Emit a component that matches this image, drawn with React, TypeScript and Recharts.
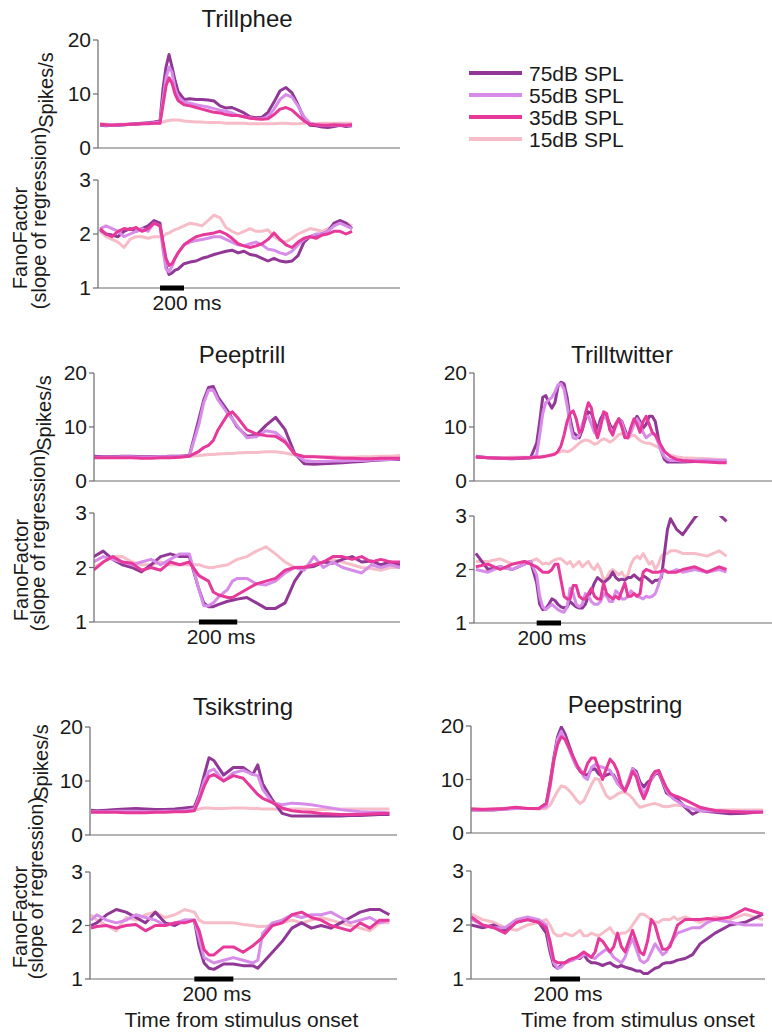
import React from "react";
import { LineChart, Line, XAxis, YAxis, ReferenceLine } from "recharts";

// Peri-stimulus firing rate and Fano factor for five call types at four levels.
// Time is in ms from stimulus onset; the scale bar spans 0-200 ms.

const trillpheeTime = [-500, -450, -400, -350, -300, -250, -200, -150, -100, -50, 0, 25, 50, 75, 100, 125, 150, 200, 250, 300, 350, 400, 450, 500, 550, 600, 650, 700, 750, 800, 850, 900, 950, 1000, 1050, 1100, 1150, 1200, 1250, 1300, 1350, 1400, 1450, 1500, 1550, 1600];
const trillpheeRate75 = [4.2, 4.1, 4.2, 4.2, 4.3, 4.4, 4.5, 4.6, 4.7, 4.8, 5.0, 11, 15, 17.3, 15, 12.5, 10.5, 9.0, 9.1, 9.0, 9.0, 8.9, 8.7, 7.8, 7.4, 7.5, 7.0, 6.5, 5.8, 5.6, 5.7, 6.6, 8.5, 10.6, 11.2, 10.2, 8.0, 5.5, 4.2, 4.1, 3.9, 3.8, 4.0, 4.2, 4.0, 4.1];
const trillpheeRate55 = [4.3, 4.2, 4.2, 4.3, 4.3, 4.4, 4.4, 4.5, 4.6, 4.7, 4.8, 9, 13, 15, 14, 11, 9.5, 8.5, 8.3, 8.0, 7.8, 7.6, 7.3, 7.0, 6.8, 6.5, 6.0, 5.8, 5.6, 5.4, 5.4, 5.8, 7.2, 9.0, 9.9, 9.4, 7.8, 5.8, 4.6, 4.3, 4.2, 4.2, 4.2, 4.3, 4.2, 4.2];
const trillpheeRate35 = [4.4, 4.3, 4.2, 4.3, 4.3, 4.4, 4.4, 4.5, 4.5, 4.6, 4.6, 8, 11.5, 13, 12, 10, 8.8, 8.0, 7.8, 7.5, 7.2, 6.9, 6.6, 6.5, 6.2, 6.0, 6.0, 5.8, 5.5, 5.4, 5.3, 5.4, 6.2, 7.2, 7.5, 7.0, 6.0, 5.0, 4.4, 4.3, 4.2, 4.2, 4.3, 4.2, 4.2, 4.3];
const trillpheeRate15 = [4.5, 4.4, 4.3, 4.4, 4.4, 4.5, 4.5, 4.5, 4.6, 4.6, 4.6, 4.8, 5.0, 5.1, 5.2, 5.2, 5.2, 5.0, 4.9, 4.8, 4.8, 4.7, 4.7, 4.7, 4.6, 4.6, 4.6, 4.6, 4.5, 4.5, 4.5, 4.5, 4.5, 4.6, 4.6, 4.5, 4.5, 4.6, 4.6, 4.5, 4.6, 4.6, 4.6, 4.6, 4.6, 4.6];
const trillpheeFano75 = [2.08, 2.0, 1.98, 1.95, 2.05, 2.1, 2.05, 2.1, 2.15, 2.25, 2.2, 1.8, 1.4, 1.25, 1.28, 1.33, 1.35, 1.45, 1.48, 1.5, 1.55, 1.58, 1.62, 1.65, 1.68, 1.7, 1.65, 1.68, 1.62, 1.6, 1.55, 1.5, 1.55, 1.5, 1.48, 1.5, 1.6, 1.85, 1.95, 1.98, 2.0, 2.05, 2.2, 2.25, 2.2, 2.1];
const trillpheeFano55 = [2.1, 2.15, 2.1, 2.05, 1.95, 2.0, 2.05, 2.1, 2.05, 2.2, 2.15, 1.7, 1.35, 1.3, 1.4, 1.55, 1.65, 1.8, 1.85, 1.88, 1.9, 1.92, 1.95, 1.95, 1.9, 1.85, 1.8, 1.78, 1.82, 1.85, 1.8, 1.72, 1.7, 1.65, 1.62, 1.68, 1.8, 1.9, 1.95, 2.0, 2.0, 2.05, 2.15, 2.2, 2.15, 2.1];
const trillpheeFano35 = [2.1, 2.0, 1.95, 2.05, 2.1, 2.08, 2.12, 2.05, 2.1, 2.2, 2.15, 1.85, 1.55, 1.42, 1.45, 1.55, 1.65, 1.8, 1.88, 1.95, 1.98, 2.0, 2.02, 2.05, 2.0, 1.92, 1.82, 1.78, 1.75, 1.78, 1.82, 1.9, 2.02, 1.9, 1.8, 1.75, 1.85, 1.92, 1.95, 1.92, 1.98, 2.0, 2.05, 2.05, 2.0, 2.05];
const trillpheeFano15 = [2.05, 1.95, 1.9, 1.85, 1.75, 1.9, 1.95, 1.95, 1.92, 1.95, 1.95, 1.95, 2.0, 2.02, 2.05, 2.08, 2.1, 2.15, 2.2, 2.18, 2.15, 2.25, 2.35, 2.3, 2.12, 2.05, 2.0, 2.05, 2.1, 2.05, 2.05, 2.08, 1.95, 1.88, 1.85, 1.92, 2.0, 2.05, 2.1, 2.08, 2.05, 2.1, 2.15, 2.25, 2.2, 2.15];

const peeptrillTime = [-550, -500, -450, -400, -350, -300, -250, -200, -150, -100, -50, 0, 25, 50, 75, 100, 150, 175, 200, 250, 300, 350, 400, 450, 500, 550, 600, 650, 700, 750, 800, 850, 900, 950, 1000, 1050];
const peeptrillRate75 = [4.6, 4.5, 4.5, 4.6, 4.6, 4.5, 4.5, 4.5, 4.6, 4.6, 4.7, 11.5, 15, 17.3, 17.5, 15.5, 13.0, 11.5, 10.0, 8.3, 8.5, 10.3, 11.8, 9.5, 5.1, 3.2, 3.1, 3.2, 3.3, 3.4, 3.5, 3.6, 3.8, 3.9, 4.0, 4.0];
const peeptrillRate55 = [4.4, 4.4, 4.4, 4.5, 4.5, 4.4, 4.4, 4.5, 4.5, 4.5, 4.6, 10.5, 14.5, 16.8, 16.8, 15.0, 12.5, 11.5, 10.2, 8.0, 8.2, 9.3, 9.0, 7.5, 5.0, 3.8, 3.6, 3.6, 3.7, 3.7, 3.8, 3.8, 3.9, 4.0, 4.0, 4.1];
const peeptrillRate35 = [4.3, 4.3, 4.3, 4.3, 4.3, 4.2, 4.2, 4.3, 4.3, 4.4, 4.6, 5.5, 6.2, 6.6, 7.5, 9.5, 12.3, 12.8, 11.8, 9.5, 8.7, 8.4, 8.3, 7.2, 5.0, 4.5, 4.5, 4.4, 4.3, 4.2, 4.2, 4.1, 4.1, 4.2, 4.2, 4.2];
const peeptrillRate15 = [4.5, 4.5, 4.5, 4.5, 4.5, 4.5, 4.5, 4.5, 4.6, 4.6, 4.6, 4.7, 4.8, 4.9, 4.9, 5.0, 5.1, 5.1, 5.2, 5.3, 5.3, 5.4, 5.4, 5.2, 4.8, 4.6, 4.6, 4.5, 4.5, 4.4, 4.4, 4.5, 4.5, 4.6, 4.6, 4.7];
const peeptrillFano75 = [2.2, 2.3, 2.15, 2.05, 2.0, 1.92, 2.05, 2.2, 2.25, 2.2, 2.2, 1.6, 1.35, 1.28, 1.28, 1.32, 1.38, 1.4, 1.42, 1.45, 1.35, 1.25, 1.25, 1.35, 1.75, 2.0, 2.02, 2.1, 2.08, 2.15, 2.2, 2.1, 2.12, 2.05, 2.1, 2.05];
const peeptrillFano55 = [2.1, 2.2, 2.15, 2.1, 2.05, 2.1, 2.15, 2.05, 2.15, 2.25, 2.25, 1.6, 1.3, 1.3, 1.35, 1.45, 1.6, 1.75, 1.8, 1.8, 1.7, 1.68, 1.75, 1.9, 2.0, 1.95, 2.2, 2.0, 2.1, 2.0, 1.95, 1.9, 2.05, 2.0, 2.05, 2.0];
const peeptrillFano35 = [1.95, 2.1, 2.2, 2.1, 2.08, 1.95, 2.0, 1.95, 2.1, 2.05, 2.1, 1.85, 1.8, 1.75, 1.55, 1.5, 1.45, 1.45, 1.5, 1.6, 1.7, 1.75, 1.8, 1.95, 2.0, 2.0, 2.05, 2.1, 2.2, 2.2, 2.15, 2.2, 2.1, 2.15, 2.1, 2.1];
const peeptrillFano15 = [2.0, 2.1, 2.2, 2.2, 2.1, 2.05, 2.05, 2.1, 2.05, 2.05, 2.05, 2.05, 2.02, 2.0, 2.0, 2.02, 2.05, 2.1, 2.15, 2.2, 2.3, 2.38, 2.25, 2.1, 2.0, 2.02, 2.05, 2.1, 2.15, 2.1, 2.05, 2.0, 1.98, 1.95, 2.0, 2.0];

const trilltwitterTime = [-500, -400, -300, -200, -100, -50, 0, 25, 50, 75, 100, 125, 150, 175, 200, 225, 250, 275, 300, 325, 350, 375, 400, 425, 450, 475, 500, 525, 550, 575, 600, 625, 650, 675, 700, 725, 750, 775, 800, 825, 850, 875, 900, 925, 950, 975, 1000, 1025, 1050, 1075, 1100, 1150, 1200, 1300, 1400, 1500, 1560];
const trilltwitterRate75 = [4.6, 4.3, 4.2, 4.1, 4.2, 4.3, 7.0, 11, 15.5, 15.8, 14.5, 13.5, 14.5, 17.5, 18.3, 18.0, 15.5, 11.5, 9.0, 8.5, 8.0, 9.5, 11.5, 12.8, 12.5, 11.0, 9.5, 11.5, 12.5, 12.0, 10.5, 9.5, 10.5, 11.5, 11.0, 9.5, 8.0, 9.5, 11.0, 12.0, 11.0, 9.8, 10.5, 12.0, 12.0, 11.0, 8.0, 5.5, 4.0, 3.5, 3.5, 3.5, 3.5, 3.6, 3.7, 3.6, 3.5];
const trilltwitterRate55 = [4.5, 4.3, 4.2, 4.2, 4.3, 4.3, 4.8, 8.5, 12.5, 14.5, 15, 15.5, 16.5, 17.8, 18.0, 17.0, 14.0, 10.5, 8.0, 7.8, 8.5, 10.5, 12.0, 12.0, 10.5, 9.0, 8.5, 10.5, 12.0, 11.5, 10.0, 9.0, 10.0, 11.5, 10.8, 9.0, 8.0, 9.0, 10.5, 11.5, 10.5, 9.0, 8.0, 8.5, 8.8, 8.5, 7.0, 5.5, 4.5, 4.0, 3.8, 3.8, 3.7, 3.8, 3.9, 3.8, 3.8];
const trilltwitterRate35 = [4.4, 4.3, 4.2, 4.2, 4.3, 4.3, 4.4, 4.4, 4.5, 4.6, 4.7, 4.8, 5.0, 5.5, 6.5, 8.5, 11.0, 12.5, 13.0, 11.5, 9.0, 9.5, 12.5, 14.5, 13.5, 10.0, 8.0, 10.0, 12.8, 12.5, 9.5, 8.5, 10.5, 11.5, 10.0, 8.0, 8.0, 10.0, 11.5, 10.5, 9.0, 11.0, 12.0, 10.5, 9.0, 8.5, 7.5, 6.5, 5.5, 5.0, 4.5, 4.0, 3.8, 3.6, 3.5, 3.4, 3.4];
const trilltwitterRate15 = [4.5, 4.3, 4.3, 4.4, 4.4, 4.4, 4.5, 4.5, 4.6, 4.6, 4.8, 4.9, 5.0, 5.2, 5.5, 5.6, 5.4, 5.6, 6.0, 6.5, 7.0, 7.4, 7.6, 7.5, 7.2, 6.8, 7.0, 7.5, 7.8, 7.6, 7.2, 7.5, 8.0, 8.6, 8.8, 8.5, 8.2, 8.3, 8.5, 8.0, 7.5, 7.2, 7.0, 7.0, 6.8, 6.5, 6.2, 5.8, 5.5, 5.0, 4.8, 4.5, 4.3, 4.2, 4.1, 4.0, 4.0];
const trilltwitterFano75 = [2.3, 2.0, 2.05, 2.0, 2.1, 2.15, 1.75, 1.35, 1.25, 1.27, 1.35, 1.45, 1.42, 1.35, 1.3, 1.28, 1.3, 1.4, 1.35, 1.3, 1.28, 1.28, 1.35, 1.5, 1.6, 1.75, 1.85, 1.8, 1.75, 1.8, 1.85, 1.95, 1.85, 1.8, 1.82, 1.8, 1.85, 1.85, 1.9, 1.85, 1.8, 1.88, 1.85, 1.8, 1.75, 1.8, 1.8, 1.85, 2.3, 2.75, 2.95, 2.75, 2.65, 2.97, 3.2, 3.03, 2.9];
const trilltwitterFano55 = [2.0, 1.95, 2.05, 2.0, 2.1, 2.15, 1.9, 1.5, 1.3, 1.25, 1.3, 1.35, 1.3, 1.25, 1.22, 1.2, 1.3, 1.65, 1.55, 1.35, 1.3, 1.35, 1.55, 1.5, 1.4, 1.35, 1.35, 1.4, 1.55, 1.5, 1.4, 1.4, 1.6, 1.55, 1.45, 1.45, 1.5, 1.6, 1.55, 1.5, 1.48, 1.45, 1.5, 1.48, 1.5, 1.55, 1.7, 1.9, 2.0, 1.95, 1.95, 2.0, 1.95, 2.0, 1.95, 2.0, 1.95];
const trilltwitterFano35 = [2.05, 2.1, 2.0, 2.1, 2.15, 2.1, 2.05, 2.0, 1.95, 1.95, 1.95, 2.0, 2.1, 2.1, 1.8, 1.5, 1.45, 1.45, 1.7, 1.7, 1.5, 1.45, 1.45, 1.55, 1.65, 1.5, 1.45, 1.45, 1.75, 1.55, 1.5, 1.45, 1.5, 1.45, 1.6, 1.75, 1.5, 1.5, 1.55, 1.5, 1.55, 1.95, 2.0, 1.98, 1.95, 1.95, 1.95, 1.97, 1.98, 1.95, 1.95, 1.95, 2.0, 2.05, 1.95, 2.05, 2.0];
const trilltwitterFano15 = [2.15, 2.15, 2.2, 2.1, 2.15, 2.15, 2.2, 2.15, 2.1, 2.12, 2.1, 2.15, 2.18, 2.2, 2.2, 2.15, 2.1, 2.15, 2.05, 2.1, 2.15, 2.05, 2.1, 2.15, 2.05, 2.0, 2.1, 2.0, 1.8, 1.85, 1.95, 2.0, 1.95, 1.9, 1.95, 1.85, 1.9, 2.1, 2.2, 2.25, 2.2, 2.3, 2.2, 2.1, 2.15, 2.0, 2.1, 2.25, 2.3, 2.3, 2.35, 2.35, 2.3, 2.3, 2.25, 2.35, 2.25];

const tsikstringTime = [-530, -500, -450, -400, -350, -300, -250, -200, -150, -100, -50, 0, 25, 50, 75, 100, 150, 200, 250, 300, 325, 350, 400, 450, 500, 550, 600, 650, 700, 750, 800, 850, 900, 950, 1000];
const tsikstringRate75 = [4.6, 4.5, 4.6, 4.7, 4.8, 4.9, 4.8, 4.7, 4.7, 4.8, 5.0, 5.2, 7.5, 11.0, 14.3, 13.8, 11.1, 12.5, 12.5, 11.2, 13.0, 9.5, 6.5, 4.0, 3.5, 3.5, 3.5, 3.5, 3.5, 3.5, 3.6, 3.6, 3.7, 3.8, 3.8];
const tsikstringRate55 = [4.3, 4.3, 4.3, 4.4, 4.4, 4.4, 4.3, 4.3, 4.4, 4.4, 4.5, 4.8, 7.0, 10.0, 11.8, 12.2, 10.0, 11.5, 12.0, 11.2, 11.0, 8.5, 6.0, 5.6, 5.9, 5.8, 5.6, 5.3, 5.0, 4.7, 4.5, 4.3, 4.2, 4.2, 4.1];
const tsikstringRate35 = [4.2, 4.2, 4.2, 4.2, 4.1, 4.1, 4.1, 4.2, 4.2, 4.3, 4.3, 4.5, 6.5, 9.0, 10.8, 11.2, 10.0, 11.0, 10.5, 8.5, 7.5, 6.8, 6.0, 5.0, 4.5, 4.3, 4.2, 4.0, 3.9, 3.8, 3.8, 3.8, 3.9, 4.0, 4.0];
const tsikstringRate15 = [4.4, 4.4, 4.4, 4.4, 4.5, 4.5, 4.5, 4.5, 4.5, 4.5, 4.5, 4.6, 4.8, 5.0, 5.0, 4.9, 4.9, 5.0, 5.0, 4.9, 4.9, 4.8, 4.8, 4.7, 4.8, 4.8, 4.7, 4.7, 4.8, 4.8, 4.8, 4.8, 4.8, 4.8, 4.8];
const tsikstringFano75 = [2.0, 2.05, 2.2, 2.3, 2.25, 2.15, 2.05, 2.25, 2.05, 2.0, 2.1, 2.1, 1.6, 1.3, 1.2, 1.18, 1.28, 1.28, 1.25, 1.25, 1.2, 1.3, 1.5, 1.7, 1.95, 2.05, 1.95, 2.0, 1.95, 2.05, 2.15, 2.25, 2.3, 2.3, 2.2];
const tsikstringFano55 = [2.1, 2.2, 2.1, 2.05, 2.1, 2.2, 2.15, 2.1, 2.0, 2.05, 2.1, 2.1, 1.75, 1.4, 1.35, 1.3, 1.35, 1.4, 1.35, 1.3, 1.35, 1.85, 2.05, 2.1, 2.2, 2.15, 2.2, 2.2, 2.25, 2.15, 2.05, 2.1, 2.15, 2.05, 2.1];
const tsikstringFano35 = [1.95, 1.98, 2.0, 1.95, 2.0, 2.02, 1.9, 2.0, 2.0, 2.05, 2.05, 2.1, 1.9, 1.55, 1.45, 1.45, 1.6, 1.6, 1.5, 1.62, 1.7, 1.78, 2.0, 2.05, 2.2, 2.25, 2.15, 2.1, 2.0, 1.95, 1.9, 2.05, 1.95, 2.1, 2.1];
const tsikstringFano15 = [2.2, 2.1, 2.0, 1.9, 2.15, 2.1, 2.2, 2.25, 2.15, 2.2, 2.3, 2.25, 2.1, 2.05, 2.05, 2.05, 2.05, 2.05, 2.02, 2.0, 1.98, 1.98, 2.0, 2.05, 2.1, 2.05, 2.1, 2.15, 2.1, 2.05, 2.0, 1.95, 1.9, 2.05, 2.05];

const peepstringTime = [-525, -450, -375, -300, -225, -150, -75, -25, 0, 25, 50, 75, 100, 125, 150, 175, 200, 225, 250, 275, 300, 325, 350, 375, 400, 425, 450, 475, 500, 525, 550, 575, 600, 625, 650, 675, 700, 725, 750, 775, 800, 825, 850, 900, 950, 1000, 1050, 1100, 1200, 1300, 1420];
const peepstringRate75 = [4.3, 4.3, 4.3, 4.5, 4.6, 4.6, 4.6, 5.5, 9.5, 14, 18, 19.8, 18.5, 16.5, 14.5, 12.5, 11.7, 11.0, 10.8, 11.8, 12.0, 11.0, 10.5, 10.8, 11.1, 10.8, 9.5, 8.5, 8.0, 9.5, 12.0, 11.5, 9.5, 8.6, 9.5, 10.0, 11.0, 11.2, 9.5, 7.5, 7.0, 6.8, 6.3, 4.8, 3.5, 4.2, 4.0, 3.9, 3.6, 3.7, 4.0];
const peepstringRate55 = [4.4, 4.3, 4.4, 4.5, 4.6, 4.6, 4.6, 5.0, 8.5, 13.5, 17.5, 19.0, 17.5, 15.8, 14.0, 12.5, 12.0, 10.5, 10.0, 12.2, 12.8, 12.5, 12.3, 12.0, 11.7, 10.5, 9.2, 8.5, 8.0, 10.0, 12.0, 11.0, 8.8, 7.4, 8.5, 10.0, 11.2, 11.5, 9.8, 8.0, 7.0, 6.3, 5.9, 5.0, 4.5, 4.2, 4.1, 4.1, 4.0, 4.0, 4.0];
const peepstringRate35 = [4.5, 4.4, 4.5, 4.6, 4.8, 4.6, 4.6, 5.5, 9.0, 13.5, 16.5, 18.0, 17.5, 16.0, 14.5, 13.0, 11.5, 11.0, 13.0, 14.0, 14.0, 12.0, 10.0, 12.0, 13.8, 13.0, 11.5, 9.0, 7.8, 9.5, 11.5, 10.5, 8.0, 6.4, 8.0, 10.5, 11.5, 11.7, 10.0, 8.5, 7.4, 7.0, 6.8, 6.2, 5.5, 4.8, 4.5, 4.2, 4.0, 3.9, 3.9];
const peepstringRate15 = [4.6, 4.5, 4.5, 4.6, 4.7, 4.6, 4.5, 4.6, 5.2, 6.5, 7.8, 8.8, 8.6, 8.0, 7.2, 6.2, 5.5, 6.0, 7.5, 9.0, 10.2, 10.0, 8.5, 7.0, 6.4, 6.8, 7.3, 7.6, 7.6, 7.2, 6.5, 5.5, 4.8, 5.0, 5.2, 5.4, 5.5, 5.3, 5.0, 4.9, 5.0, 5.2, 5.2, 5.0, 4.6, 4.5, 4.4, 4.3, 4.3, 4.3, 4.3];
const peepstringFano75 = [2.0, 1.95, 2.0, 1.9, 2.05, 2.1, 2.05, 1.85, 1.5, 1.25, 1.2, 1.25, 1.3, 1.35, 1.35, 1.4, 1.38, 1.45, 1.35, 1.3, 1.3, 1.28, 1.25, 1.28, 1.3, 1.25, 1.22, 1.25, 1.22, 1.2, 1.18, 1.15, 1.15, 1.1, 1.1, 1.15, 1.2, 1.22, 1.28, 1.3, 1.3, 1.32, 1.35, 1.38, 1.45, 1.65, 1.75, 1.85, 2.0, 2.05, 2.2];
const peepstringFano55 = [2.1, 2.0, 1.95, 1.95, 2.1, 2.15, 2.1, 2.0, 1.6, 1.3, 1.2, 1.22, 1.3, 1.32, 1.35, 1.38, 1.4, 1.45, 1.45, 1.4, 1.38, 1.45, 1.5, 1.55, 1.5, 1.4, 1.35, 1.3, 1.4, 1.6, 1.75, 1.55, 1.35, 1.3, 1.35, 1.5, 1.65, 1.55, 1.45, 1.5, 1.65, 1.75, 1.85, 1.9, 1.95, 1.95, 2.05, 2.1, 2.05, 2.0, 2.0];
const peepstringFano35 = [2.15, 2.0, 1.95, 1.85, 2.05, 2.1, 2.05, 1.95, 1.7, 1.35, 1.3, 1.3, 1.3, 1.35, 1.38, 1.4, 1.45, 1.5, 1.45, 1.4, 1.5, 1.75, 1.7, 1.6, 1.5, 1.6, 1.85, 1.6, 1.5, 1.7, 1.9, 1.7, 1.5, 1.45, 1.7, 2.1, 2.0, 1.75, 1.55, 1.55, 1.6, 1.8, 2.0, 2.1, 2.1, 2.1, 2.12, 2.1, 2.15, 2.3, 2.2];
const peepstringFano15 = [2.2, 2.1, 2.05, 1.95, 1.9, 2.0, 2.05, 2.1, 2.0, 1.85, 1.8, 1.8, 1.85, 1.82, 1.8, 1.85, 1.9, 1.8, 1.8, 1.85, 1.82, 1.8, 1.85, 1.9, 1.95, 1.85, 1.8, 1.85, 1.85, 1.9, 2.0, 2.1, 2.2, 2.2, 2.15, 2.1, 2.05, 2.05, 2.1, 2.1, 2.1, 2.15, 2.1, 2.15, 2.1, 2.05, 2.1, 2.15, 2.1, 2.2, 2.1];

// drawn back to front: 15, 75, 55, 35 dB
const SERIES = [
  { key: "db15", name: "15dB SPL", color: "#f6bdc8" },
  { key: "db75", name: "75dB SPL", color: "#913795" },
  { key: "db55", name: "55dB SPL", color: "#d78ce9" },
  { key: "db35", name: "35dB SPL", color: "#e6399a" },
];
const LEGEND_ORDER = ["db75", "db55", "db35", "db15"];

const FONT = "'Liberation Sans', Arial, sans-serif";
const INK = "#1a1a1a";
const AXIS = "#6b6b6b";

function toRows(time: number[], a: number[], b: number[], c: number[], d: number[]) {
  return time.map((t, i) => ({ t, db75: a[i], db55: b[i], db35: c[i], db15: d[i] }));
}

type TraceProps = {
  left: number;
  top: number;
  width: number;
  height: number;
  domainX: [number, number];
  rows: any[];
  fano?: boolean;
  xTitle?: boolean;
  xTitleShift?: number;
  barLabelShift?: number;
};

const YW = 50;
const MT = 12;
const MB = 14;

function Trace({ left, top, width, height, domainX, rows, fano, xTitle, xTitleShift = 0, barLabelShift = 3 }: TraceProps) {
  const xh = fano ? (xTitle ? 48 : 28) : 1;
  return (
    <div style={{ position: "absolute", left: left - YW, top: top - MT }}>
      <LineChart
        width={YW + width}
        height={MT + height + xh + MB}
        data={rows}
        margin={{ top: MT, right: 0, bottom: MB, left: 0 }}
      >
        <XAxis
          dataKey="t"
          type="number"
          domain={domainX}
          allowDataOverflow
          height={xh}
          ticks={fano ? [100] : []}
          tick={fano ? { fontSize: 21, fill: INK, fontFamily: FONT, dx: barLabelShift } : false}
          tickFormatter={() => "200 ms"}
          tickLine={false}
          tickSize={0}
          tickMargin={7}
          axisLine={fano ? false : { stroke: AXIS, strokeWidth: 1.2 }}
          label={
            xTitle
              ? {
                  value: "Time from stimulus onset",
                  position: "insideBottom",
                  offset: 0,
                  dx: xTitleShift,
                  style: { fontSize: 21, fill: INK, fontFamily: FONT },
                }
              : undefined
          }
        />
        <YAxis
          type="number"
          domain={fano ? [1, 3] : [0, 20]}
          ticks={fano ? [1, 2, 3] : [0, 10, 20]}
          interval={0}
          allowDataOverflow
          width={YW}
          tick={{ fontSize: 21, fill: INK, fontFamily: FONT }}
          tickSize={5}
          tickMargin={2}
          axisLine={{ stroke: AXIS, strokeWidth: 1.2 }}
          tickLine={{ stroke: AXIS, strokeWidth: 1.2 }}
        />
        {fano && <ReferenceLine y={1} stroke={AXIS} strokeWidth={1.2} />}
        {SERIES.map((s) => (
          <Line
            key={s.key}
            dataKey={s.key}
            stroke={s.color}
            strokeWidth={3}
            strokeLinejoin="round"
            dot={false}
            type="linear"
            isAnimationActive={false}
          />
        ))}
        {fano && (
          <ReferenceLine
            segment={[
              { x: 0, y: 1 },
              { x: 200, y: 1 },
            ]}
            stroke="#000"
            strokeWidth={5}
            ifOverflow="visible"
          />
        )}
      </LineChart>
    </div>
  );
}

function Title({ x, y, text }: { x: number; y: number; text: string }) {
  return (
    <div
      style={{
        position: "absolute",
        left: x,
        top: y,
        transform: "translate(-50%, -50%)",
        fontSize: 24,
        lineHeight: 1,
        color: INK,
        whiteSpace: "nowrap",
      }}
    >
      {text}
    </div>
  );
}

function SideLabel({ x, y, text }: { x: number; y: number; text: string }) {
  return (
    <div
      style={{
        position: "absolute",
        left: x,
        top: y,
        transform: "translate(-50%, -50%) rotate(-90deg)",
        fontSize: 20,
        lineHeight: 1,
        color: INK,
        whiteSpace: "nowrap",
      }}
    >
      {text}
    </div>
  );
}

function LevelLegend() {
  return (
    <svg style={{ position: "absolute", left: 460, top: 60 }} width={180} height={95}>
      {LEGEND_ORDER.map((k, i) => {
        const s = SERIES.find((d) => d.key === k)!;
        const y = 13 + i * 22;
        return (
          <g key={k}>
            <line x1={9} x2={62} y1={y} y2={y} stroke={s.color} strokeWidth={4} />
            <text x={69} y={y + 7.5} fontSize={21} fill={INK} fontFamily={FONT}>
              {s.name}
            </text>
          </g>
        );
      })}
    </svg>
  );
}

export default function App() {
  const trillpheeRates = toRows(trillpheeTime, trillpheeRate75, trillpheeRate55, trillpheeRate35, trillpheeRate15);
  const trillpheeFano = toRows(trillpheeTime, trillpheeFano75, trillpheeFano55, trillpheeFano35, trillpheeFano15);
  const peeptrillRates = toRows(peeptrillTime, peeptrillRate75, peeptrillRate55, peeptrillRate35, peeptrillRate15);
  const peeptrillFano = toRows(peeptrillTime, peeptrillFano75, peeptrillFano55, peeptrillFano35, peeptrillFano15);
  const trilltwitterRates = toRows(trilltwitterTime, trilltwitterRate75, trilltwitterRate55, trilltwitterRate35, trilltwitterRate15);
  const trilltwitterFano = toRows(trilltwitterTime, trilltwitterFano75, trilltwitterFano55, trilltwitterFano35, trilltwitterFano15);
  const tsikstringRates = toRows(tsikstringTime, tsikstringRate75, tsikstringRate55, tsikstringRate35, tsikstringRate15);
  const tsikstringFano = toRows(tsikstringTime, tsikstringFano75, tsikstringFano55, tsikstringFano35, tsikstringFano15);
  const peepstringRates = toRows(peepstringTime, peepstringRate75, peepstringRate55, peepstringRate35, peepstringRate15);
  const peepstringFano = toRows(peepstringTime, peepstringFano75, peepstringFano55, peepstringFano35, peepstringFano15);

  return (
    <div
      style={{
        position: "absolute",
        left: 0,
        top: 0,
        width: 772,
        height: 1032,
        background: "#fff",
        fontFamily: FONT,
        overflow: "hidden",
      }}
    >
      {/* Trillphee */}
      <Title x={247} y={19} text="Trillphee" />
      <SideLabel x={46} y={90} text="Spikes/s" />
      <SideLabel x={20} y={238} text="FanoFactor" />
      <SideLabel x={39} y={218} text="(slope of regression)" />
      <Trace left={98} top={40} width={302} height={108} domainX={[-517, 2000]} rows={trillpheeRates} />
      <Trace left={98} top={180} width={302} height={108} domainX={[-517, 2000]} rows={trillpheeFano} fano barLabelShift={15} />
      <LevelLegend />

      {/* Peeptrill */}
      <Title x={242} y={355} text="Peeptrill" />
      <SideLabel x={44} y={413} text="Spikes/s" />
      <SideLabel x={21} y={570} text="FanoFactor" />
      <SideLabel x={38} y={540} text="(slope of regression)" />
      <Trace left={94} top={373} width={306} height={108} domainX={[-548, 1050]} rows={peeptrillRates} />
      <Trace left={94} top={513} width={306} height={109} domainX={[-548, 1050]} rows={peeptrillFano} fano />

      {/* Trilltwitter */}
      <Title x={622} y={355} text="Trilltwitter" />
      <Trace left={474} top={373} width={298} height={108} domainX={[-515, 1934]} rows={trilltwitterRates} />
      <Trace left={474} top={516} width={298} height={107} domainX={[-515, 1934]} rows={trilltwitterFano} fano />

      {/* Tsikstring */}
      <Title x={243} y={707} text="Tsikstring" />
      <SideLabel x={41} y={762} text="Spikes/s" />
      <SideLabel x={20} y={917} text="FanoFactor" />
      <SideLabel x={36} y={888} text="(slope of regression)" />
      <Trace left={90} top={727} width={307} height={108} domainX={[-535, 1039]} rows={tsikstringRates} />
      <Trace left={90} top={872} width={307} height={107} domainX={[-535, 1039]} rows={tsikstringFano} fano xTitle xTitleShift={-2} />

      {/* Peepstring */}
      <Title x={625} y={705} text="Peepstring" />
      <Trace left={471} top={726} width={294} height={107} domainX={[-527, 1433]} rows={peepstringRates} />
      <Trace left={471} top={871} width={294} height={108} domainX={[-527, 1433]} rows={peepstringFano} fano xTitle xTitleShift={20} />
    </div>
  );
}
